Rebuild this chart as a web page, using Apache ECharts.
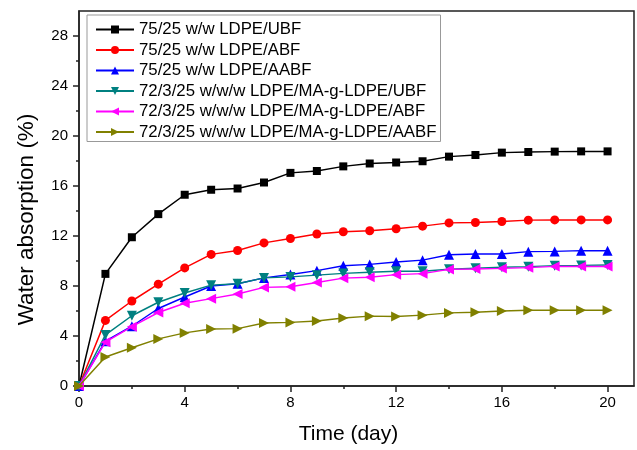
<!DOCTYPE html>
<html>
<head>
<meta charset="utf-8">
<script src="https://cdn.jsdelivr.net/npm/echarts@6/dist/echarts.min.js"></script>
<style>html,body{margin:0;padding:0;background:#fff;}#c{width:637px;height:450px;}</style>
</head>
<body>
<div id="c"></div>
<script>
const days = [0,1,2,3,4,5,6,7,8,9,10,11,12,13,14,15,16,17,18,19,20];
const seriesNames = [
  '75/25 w/w LDPE/UBF',
  '75/25 w/w LDPE/ABF',
  '75/25 w/w LDPE/AABF',
  '72/3/25 w/w/w LDPE/MA-g-LDPE/UBF',
  '72/3/25 w/w/w LDPE/MA-g-LDPE/ABF',
  '72/3/25 w/w/w LDPE/MA-g-LDPE/AABF'
];
const ldpeUbf = [0, 8.97, 11.9, 13.75, 15.3, 15.7, 15.8, 16.28, 17.05, 17.2, 17.57, 17.8, 17.88, 17.98, 18.35, 18.48, 18.67, 18.72, 18.75, 18.77, 18.77];
const ldpeAbf = [0, 5.25, 6.8, 8.15, 9.45, 10.53, 10.84, 11.45, 11.8, 12.16, 12.34, 12.42, 12.58, 12.79, 13.05, 13.08, 13.16, 13.27, 13.29, 13.29, 13.29];
const ldpeAabf = [0, 3.59, 4.78, 6.2, 7.12, 8.0, 8.18, 8.65, 8.92, 9.23, 9.62, 9.73, 9.92, 10.07, 10.5, 10.56, 10.56, 10.75, 10.77, 10.83, 10.83];
const maUbf = [0, 4.09, 5.62, 6.7, 7.44, 8.07, 8.18, 8.65, 8.73, 8.87, 9.01, 9.1, 9.18, 9.18, 9.34, 9.42, 9.5, 9.55, 9.63, 9.65, 9.68];
const maAbf = [0, 3.51, 4.75, 5.88, 6.62, 6.99, 7.36, 7.89, 7.94, 8.28, 8.63, 8.7, 8.91, 8.99, 9.33, 9.36, 9.41, 9.47, 9.57, 9.57, 9.57];
const maAabf = [0, 2.32, 3.06, 3.77, 4.25, 4.56, 4.59, 5.04, 5.09, 5.2, 5.44, 5.59, 5.56, 5.67, 5.85, 5.9, 6.0, 6.06, 6.06, 6.06, 6.06];
const xMajorTicks = [0, 4, 8, 12, 16, 20];
const xMinorTicks = [2, 6, 10, 14, 18];
const yMajorTicks = [0, 4, 8, 12, 16, 20, 24, 28];
const yMinorTicks = [2, 6, 10, 14, 18, 22, 26];

const FONT = '"Liberation Sans", Arial, sans-serif';
const AX = '#222';
const allValues = [ldpeUbf, ldpeAbf, ldpeAabf, maUbf, maAbf, maAabf];
const styles = [
  {color: '#000000', symbol: 'rect', size: 8, rot: 0},
  {color: '#ff0000', symbol: 'circle', size: 9, rot: 0},
  {color: '#0000ff', symbol: 'triangle', size: 10, rot: 0},
  {color: '#008080', symbol: 'triangle', size: 10, rot: 180},
  {color: '#ff00ff', symbol: 'triangle', size: 10, rot: 90},
  {color: '#808000', symbol: 'triangle', size: 10, rot: -90}
];

const chart = echarts.init(document.getElementById('c'), null, {renderer: 'canvas'});
chart.setOption({
  animation: false,
  backgroundColor: '#fff',
  textStyle: {fontFamily: FONT},
  grid: {left: 79, right: 3, top: 11, bottom: 60, show: true, borderColor: AX, borderWidth: 1.5, backgroundColor: 'transparent'},
  legend: {
    orient: 'vertical', left: 87, top: 15,
    itemWidth: 38, itemHeight: 10, itemGap: 3.5,
    padding: [6, 4, 1, 8],
    backgroundColor: '#fff', borderColor: '#999', borderWidth: 1,
    textStyle: {fontFamily: FONT, fontSize: 16.8, color: '#000'},
    data: seriesNames
  },
  xAxis: [{
    type: 'value', min: 0, max: 21, interval: 4,
    name: 'Time (day)', nameLocation: 'middle', nameGap: 38,
    nameTextStyle: {fontFamily: FONT, fontSize: 21, color: '#000', padding: [0, 16, 0, 0]},
    axisLine: {show: true, lineStyle: {color: AX, width: 1.5}},
    axisTick: {show: true, length: 6, customValues: xMajorTicks, lineStyle: {color: AX, width: 1.5}},
    axisLabel: {customValues: xMajorTicks, fontFamily: FONT, fontSize: 15, color: '#000', margin: 9},
    splitLine: {show: false}
  }, {
    type: 'value', min: 0, max: 21, position: 'bottom',
    axisLine: {show: false},
    axisTick: {show: true, length: 3, customValues: xMinorTicks, lineStyle: {color: AX, width: 1.5}},
    axisLabel: {show: false},
    splitLine: {show: false}
  }],
  yAxis: [{
    type: 'value', min: 0, max: 30, interval: 4,
    name: 'Water absorption (%)', nameLocation: 'middle', nameGap: 41,
    nameTextStyle: {fontFamily: FONT, fontSize: 22.5, color: '#000', padding: [0, 42, 0, 0]},
    axisLine: {show: true, lineStyle: {color: AX, width: 1.5}},
    axisTick: {show: true, length: 6, customValues: yMajorTicks, lineStyle: {color: AX, width: 1.5}},
    axisLabel: {customValues: yMajorTicks, fontFamily: FONT, fontSize: 15, color: '#000', margin: 11},
    splitLine: {show: false}
  }, {
    type: 'value', min: 0, max: 30, position: 'left',
    axisLine: {show: false},
    axisTick: {show: true, length: 3, customValues: yMinorTicks, lineStyle: {color: AX, width: 1.5}},
    axisLabel: {show: false},
    splitLine: {show: false}
  }],
  series: seriesNames.map((name, i) => ({
    name: name,
    type: 'line',
    xAxisIndex: 0, yAxisIndex: 0,
    data: days.map((d, j) => [d, allValues[i][j]]),
    symbol: styles[i].symbol,
    symbolSize: styles[i].size,
    symbolRotate: styles[i].rot,
    showAllSymbol: true,
    lineStyle: {color: styles[i].color, width: 1.5},
    itemStyle: {color: styles[i].color},
    z: 2 + i
  }))
});
</script>
</body>
</html>
